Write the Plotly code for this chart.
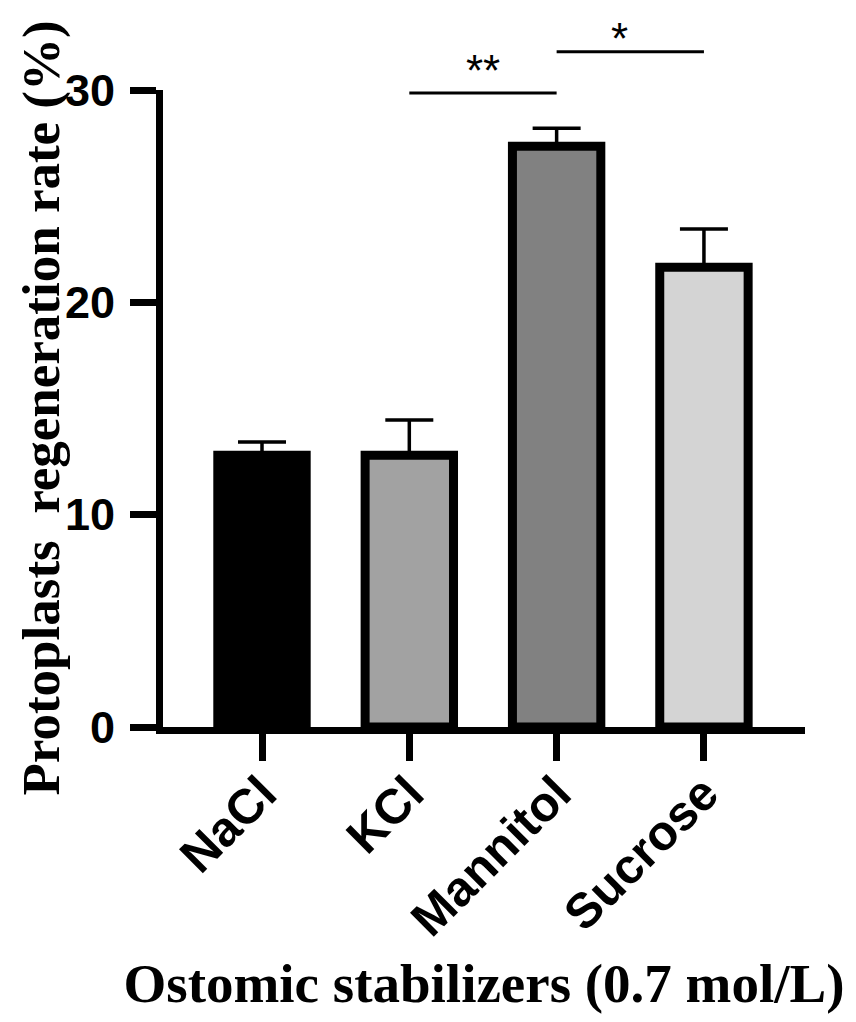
import plotly.graph_objects as go

# données
stabilizers = ["NaCl", "KCl", "Mannitol", "Sucrose"]
regen_rate = [12.8, 12.8, 27.35, 21.65]
regen_err = [0.62, 1.66, 0.85, 1.8]
bar_colors = ["#000000", "#a2a2a2", "#818181", "#d4d4d4"]

# comparaisons significatives (indice gauche, indice droit, hauteur, label)
sig_left = [1, 2]
sig_right = [2, 3]
sig_level = [29.86, 31.8]
sig_label = ["**", "*"]
sig_shift = [-4, -13]

y_ticks = [0, 10, 20, 30]
x_range = [-0.672, 3.686]
y_range = [0, 30]

fig = go.Figure(go.Bar(
    x=list(range(len(stabilizers))),
    y=regen_rate,
    width=0.6,
    marker=dict(color=bar_colors, line=dict(color="black", width=9)),
    error_y=dict(type="data", array=regen_err, arrayminus=[0] * len(regen_err),
                 symmetric=False, color="black", thickness=3.5, width=24),
))


def to_paper_x(v):
    return (v - x_range[0]) / (x_range[1] - x_range[0])


def to_paper_y(v):
    return (v - y_range[0]) / (y_range[1] - y_range[0])


# barres de significativité
for a, b, h, lab, sh in zip(sig_left, sig_right, sig_level, sig_label, sig_shift):
    fig.add_shape(type="line", xref="paper", yref="paper",
                  x0=to_paper_x(a), x1=to_paper_x(b),
                  y0=to_paper_y(h), y1=to_paper_y(h),
                  line=dict(color="black", width=3))
    fig.add_annotation(xref="paper", yref="paper",
                       x=to_paper_x((a + b) / 2), y=to_paper_y(h),
                       text=lab, showarrow=False, yanchor="bottom", yshift=sh,
                       font=dict(family="Arial, Liberation Sans", size=44, color="black"))

ytick_font = dict(family="Arial, Liberation Sans", size=45, color="black", weight="bold")
xtick_font = dict(family="Arial, Liberation Sans", size=49, color="black", weight="bold")
title_font = dict(family="Times New Roman, Liberation Serif", size=55, color="black", weight="bold")
ytitle_font = dict(family="Times New Roman, Liberation Serif", size=53, color="black", weight="bold")

# titre de l'axe y en annotation, à gauche des étiquettes
fig.add_annotation(xref="paper", yref="paper", x=-0.19, y=0.5,
                   text="Protoplasts  regeneration rate (%)", textangle=-90,
                   showarrow=False, xanchor="center", yanchor="middle",
                   font=ytitle_font)

# la page ajoute une marge de 8 px autour du graphique
fig.update_layout(
    width=840, height=1006,
    margin=dict(l=155, r=43, t=82, b=287),
    plot_bgcolor="white", paper_bgcolor="white",
    showlegend=False,
    xaxis=dict(
        range=x_range, tickmode="array", tickvals=list(range(len(stabilizers))),
        ticktext=stabilizers, tickangle=-45, tickfont=xtick_font,
        ticklabelstandoff=-16,
        showline=True, linewidth=7, linecolor="black",
        ticks="outside", ticklen=27, tickwidth=7, tickcolor="black",
        showgrid=False, zeroline=False, automargin=False,
        title=dict(text="Ostomic stabilizers (0.7 mol/L)", font=title_font, standoff=24),
    ),
    yaxis=dict(
        range=y_range, tickmode="array", tickvals=y_ticks, tickfont=ytick_font,
        ticklabelstandoff=6,
        showline=True, linewidth=7, linecolor="black",
        ticks="outside", ticklen=26, tickwidth=7, tickcolor="black",
        showgrid=False, zeroline=False, automargin=False,
    ),
)

fig.write_html("out.html")
